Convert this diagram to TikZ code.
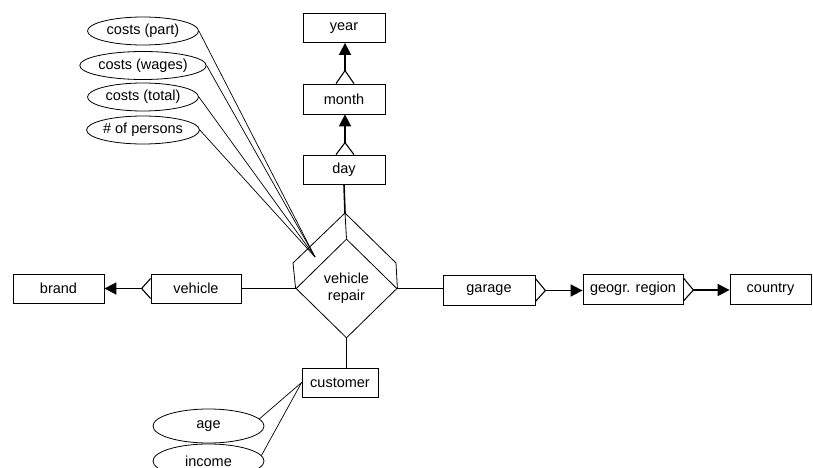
\documentclass[tikz,border=0pt]{standalone}
\usepackage{fontspec}
\setmainfont{Liberation Sans}
\usetikzlibrary{shapes.geometric,arrows.meta,calc}
\begin{document}
\begin{tikzpicture}[x=1pt,y=-1pt,
  ent/.style={draw,line width=0.8pt,rectangle,minimum height=29pt,inner sep=0pt,font=\fontsize{14.5}{17}\selectfont},
  att/.style={draw,line width=0.8pt,ellipse,minimum width=111pt,minimum height=28pt,inner sep=0pt,font=\fontsize{14.5}{17}\selectfont},
  rel/.style={line width=1.6pt,-{Triangle[length=12pt,width=12pt]}},
  conn/.style={line width=1.6pt},
  cf/.style={line width=1.1pt},
  thin line/.style={line width=0.7pt}]
\useasboundingbox (0,0) rectangle (813,468);
% entities
\node[ent,minimum width=82pt] (year) at (344,28) {year};
\node[ent,minimum width=82pt,minimum height=30pt] (month) at (344,99) {month};
\node[ent,minimum width=82pt] (day) at (344,169.5) {day};
\node[ent,minimum width=90pt] (vehicle) at (196,288.5) {vehicle};
\node[ent,minimum width=91pt] (brand) at (58.5,288.5) {brand};
\node[ent,minimum width=92pt,minimum height=30pt] (garage) at (489,290.5) {garage};
\node[ent,minimum width=100pt,minimum height=30pt] (geo) at (633,289) {geogr. region};
\node[ent,minimum width=81pt,minimum height=30pt] (country) at (770.5,289) {country};
\node[ent,minimum width=76pt] (customer) at (340,382.5) {customer};
% relationship
\node[draw,line width=0.8pt,diamond,minimum width=101pt,minimum height=99pt,inner sep=0pt,align=center,font=\fontsize{14.5}{17}\selectfont] (dia) at (346.5,288.5) {vehicle\\repair};
\coordinate (top3d) at (345,213);
\coordinate (l3d) at (293,263);
\coordinate (r3d) at (396,263);
\draw[line width=0.8pt] (dia.west) -- (l3d) -- (top3d) -- (r3d) -- (dia.east);
\draw[line width=0.8pt] (top3d) -- (dia.north);
% attributes
\node[att] (cpart) at (143,31) {costs (part)};
\node[att] (cwages) at (143,65.5) {costs (wages)};
\node[att] (ctotal) at (143,97) {costs (total)};
\node[att] (persons) at (143,130) {\# of persons};
\node[att,minimum height=34pt] (age) at (208.5,426) {age};
\node[att,minimum height=34pt] (income) at (208.5,461) {income};
\coordinate (conv) at (315,257);
\draw[thin line] (cpart.east) -- (conv);
\draw[thin line] (cwages.east) -- (conv);
\draw[thin line] (ctotal.east) -- (conv);
\draw[thin line] (persons.east) -- (conv);
\draw[thin line] (customer.west) -- (age.8);
\draw[thin line] (customer.west) -- (income.6);
% connectors to relationship
\draw[conn] (day.south) -- (top3d);
\draw[conn] (vehicle.east) -- (dia.west);
\draw[conn] (dia.east) -- (garage.west |- dia.east);
\draw[conn] (dia.south) -- (customer.north -| dia.south);
% month -> year
\coordinate (cfm) at ($(month.north)+(1,-13)$);
\draw[cf] ($(month.north)+(-8,0)$) -- (cfm) -- ($(month.north)+(10,0)$);
\draw[rel] (cfm) -- (cfm |- year.south);
% day -> month
\coordinate (cfd) at ($(day.north)+(1,-12)$);
\draw[cf] ($(day.north)+(-8,0)$) -- (cfd) -- ($(day.north)+(10,0)$);
\draw[rel] (cfd) -- (cfd |- month.south);
% vehicle -> brand
\coordinate (cfv) at ($(vehicle.west)+(-9,0)$);
\draw[cf] ($(vehicle.west)+(0,-10)$) -- (cfv) -- ($(vehicle.west)+(0,10)$);
\draw[rel] (cfv) -- (brand.east);
% garage -> geo
\coordinate (cfg) at ($(garage.east)+(10,0)$);
\draw[cf] ($(garage.east)+(0,-12)$) -- (cfg) -- ($(garage.east)+(0,11)$);
\draw[rel] (cfg) -- (geo.west |- cfg);
% geo -> country
\coordinate (cfr) at ($(geo.east)+(10,1)$);
\draw[cf] ($(geo.east)+(0,-11)$) -- (cfr) -- ($(geo.east)+(0,12)$);
\draw[rel] (cfr) -- (country.west |- cfr);
\end{tikzpicture}
\end{document}
